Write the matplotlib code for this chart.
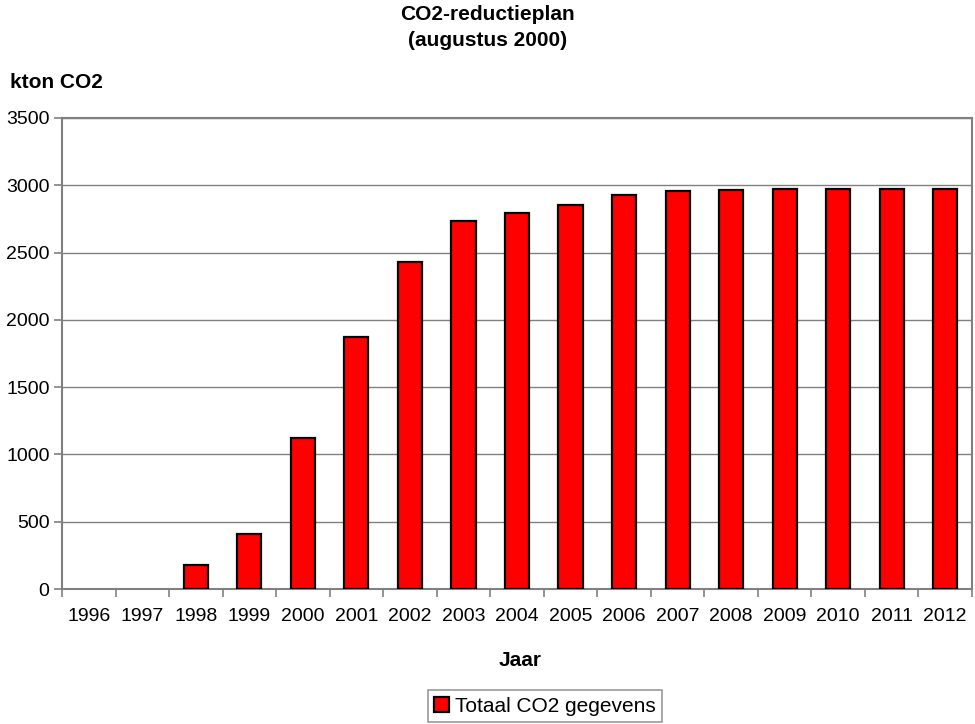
import numpy as np
import matplotlib.pyplot as plt

plt.rcParams['font.family'] = ['Liberation Sans', 'DejaVu Sans']

# data
jaren = ["1996", "1997", "1998", "1999", "2000", "2001", "2002", "2003", "2004",
         "2005", "2006", "2007", "2008", "2009", "2010", "2011", "2012"]
totaal_co2 = [0, 0, 180, 410, 1120, 1875, 2430, 2735, 2795,
              2855, 2925, 2960, 2967, 2974, 2974, 2974, 2974]
y_ticks = [0, 500, 1000, 1500, 2000, 2500, 3000, 3500]

fig = plt.figure(figsize=(9.75, 7.24), dpi=100)
ax = fig.add_axes([62/975, 1-589/724, 910/975, 471/724])

x = np.arange(len(jaren))
# empty years get no outline
lw = [1.6 if v > 0 else 0 for v in totaal_co2]
ax.bar(x, totaal_co2, width=0.45, color="#ff0000", edgecolor="black",
       linewidth=lw, label="Totaal CO2 gegevens", zorder=3)

ax.set_xlim(-0.5, len(jaren) - 0.5)
ax.set_ylim(0, 3500)
ax.set_yticks(y_ticks)
ax.set_yticklabels([str(v) for v in y_ticks], fontsize=14)
ax.yaxis.grid(True, color="#808080", linewidth=1.0, zorder=0)

# category labels centred, tick marks on the boundaries
ax.set_xticks(x)
ax.set_xticklabels(jaren, fontsize=14)
ax.tick_params(axis="x", length=0, pad=14)
ax.set_xticks(np.arange(len(jaren) + 1) - 0.5, minor=True)
ax.tick_params(axis="x", which="minor", length=6, color="#808080", width=1.2)
ax.tick_params(axis="y", length=6, color="#808080", width=1.2, pad=3)

for s in ax.spines.values():
    s.set_color("#808080")
    s.set_linewidth(1.5)

fig.text(0.5, 1-14/724, "CO2-reductieplan", ha="center", va="center",
         fontsize=15, fontweight="bold")
fig.text(0.5, 1-40/724, "(augustus 2000)", ha="center", va="center",
         fontsize=15, fontweight="bold")
fig.text(10/975, 1-83/724, "kton CO2", ha="left", va="center",
         fontsize=15, fontweight="bold")
fig.text(520/975, 1-661/724, "Jaar", ha="center", va="center",
         fontsize=15, fontweight="bold")

leg = fig.legend(loc="center", bbox_to_anchor=(545/975, 1-706/724),
                 fontsize=15, frameon=True, fancybox=False,
                 handlelength=0.7, handleheight=0.7, handletextpad=0.3,
                 borderpad=0.3, borderaxespad=0)
leg.get_frame().set_edgecolor("#808080")
leg.get_frame().set_linewidth(1.2)
leg.legend_handles[0].set_linewidth(1.6)
leg.legend_handles[0].set_edgecolor("black")

fig.savefig("out.png", dpi=100)
